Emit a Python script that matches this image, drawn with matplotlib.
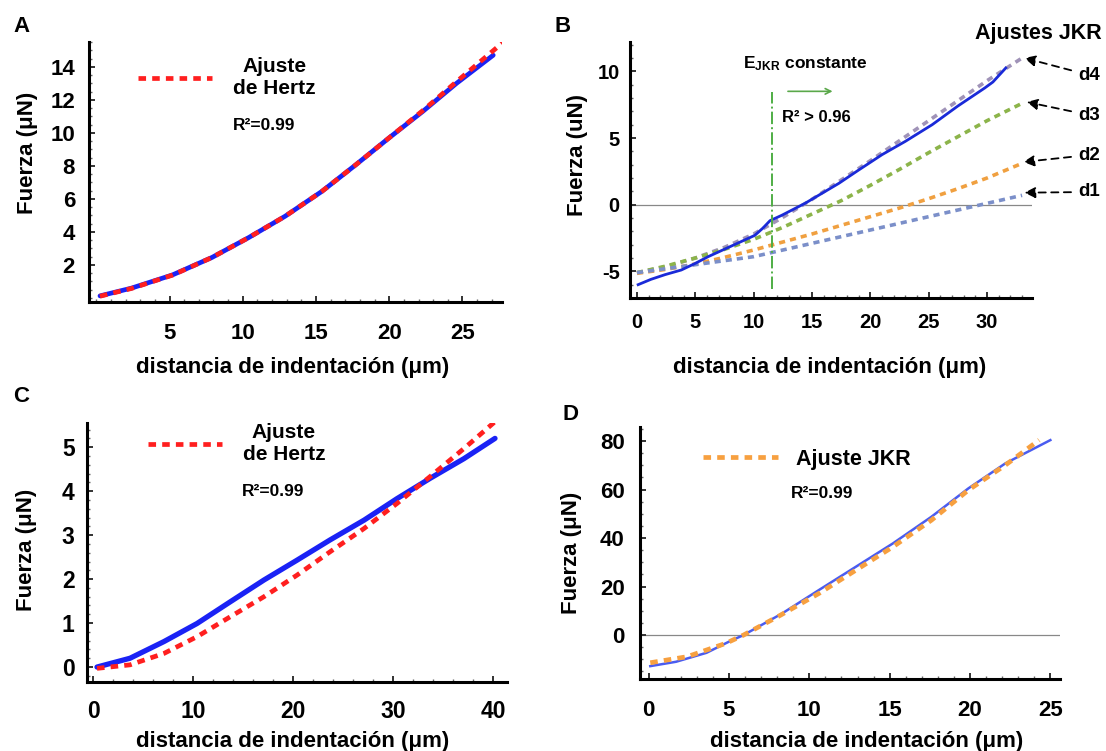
import matplotlib
matplotlib.use('Agg')
import matplotlib.pyplot as plt
from matplotlib.ticker import MultipleLocator

plt.rcParams['font.family'] = ['Liberation Sans', 'DejaVu Sans']
plt.rcParams['font.weight'] = 'bold'
plt.rcParams['axes.unicode_minus'] = False
plt.rcParams['mathtext.fontset'] = 'custom'
plt.rcParams['mathtext.rm'] = 'Liberation Sans:bold'
plt.rcParams['mathtext.it'] = 'Liberation Sans:bold'
plt.rcParams['mathtext.bf'] = 'Liberation Sans:bold'

# ---- data ----
# A: Hertz fit
a_dist = [0.25, 2.4, 5.2, 7.9, 10.4, 12.9, 15.4, 17.7, 20.0, 22.3, 24.6, 27.1]
a_force = [0.12, 0.59, 1.39, 2.45, 3.65, 4.95, 6.45, 8.05, 9.7, 11.3, 13.0, 14.7]
a_fit_dist = [0.25, 2.4, 5.2, 7.9, 10.4, 12.9, 15.4, 17.7, 20.0, 22.3, 24.6, 27.8]
a_fit = [0.1, 0.57, 1.38, 2.45, 3.65, 4.95, 6.45, 8.05, 9.7, 11.35, 13.1, 15.5]

# B: JKR fits d1..d4
b_dist = [0.1, 1.2, 2.4, 3.8, 5.0, 6.1, 8.1, 10.1, 10.8, 11.4, 12.4, 14.4,
          17.3, 19.0, 21.0, 23.0, 25.3, 27.5, 29.8, 30.5, 31.6]
b_force = [-6.0, -5.6, -5.25, -4.9, -4.4, -3.9, -3.1, -2.3, -1.75, -1.2,
           -0.8, 0.1, 1.6, 2.6, 3.75, 4.75, 6.0, 7.4, 8.75, 9.2, 10.25]
b_fit_dist = [0, 2.5, 5, 7.5, 10, 12.5, 15, 17.5, 20, 22.5, 25, 27.5, 30, 33]
b_d4 = [-5.1, -4.65, -4.0, -3.2, -2.2, -0.95, 0.4, 1.85, 3.3, 4.8, 6.3, 7.8, 9.3, 11.0]
b_d3 = [-5.1, -4.6, -4.0, -3.35, -2.6, -1.7, -0.7, 0.3, 1.45, 2.65, 3.9, 5.1, 6.3, 7.6]
b_d2 = [-5.15, -4.85, -4.45, -3.95, -3.4, -2.8, -2.2, -1.55, -0.9, -0.25, 0.45, 1.2, 2.0, 3.1]
b_d1 = [-5.1, -4.8, -4.5, -4.2, -3.9, -3.4, -2.9, -2.4, -1.9, -1.4, -0.9, -0.4, 0.1, 0.7]
b_fit_names = ['d4', 'd3', 'd2', 'd1']
b_e_const = 11.6           # start of constant E_JKR region
b_arrow_tips = [(33.2, 11.0), (33.4, 7.7), (33.1, 3.2), (33.2, 0.9)]

# C: Hertz fit
c_dist = [0.4, 3.7, 7.1, 10.4, 13.7, 17.1, 20.4, 23.7, 27.1, 30.4, 33.7, 37.1, 40.2]
c_force = [0.0, 0.2, 0.58, 0.99, 1.48, 1.98, 2.43, 2.89, 3.34, 3.83, 4.29, 4.74, 5.2]
c_fit_dist = [0.4, 3.7, 7.1, 10.4, 13.7, 17.1, 20.4, 23.7, 27.1, 30.4, 33.7, 37.1, 40.2]
c_fit = [-0.03, 0.05, 0.31, 0.69, 1.14, 1.6, 2.09, 2.62, 3.15, 3.72, 4.33, 4.97, 5.58]

# D: JKR fit
d_dist = [0.1, 1.7, 3.6, 5.0, 5.9, 8.3, 10.6, 12.9, 15.2, 17.6, 19.9, 22.2, 25.0]
d_force = [-12.8, -11, -7.3, -2.7, 0, 8.9, 18.6, 28.2, 37.8, 48.8, 60.5, 70.8, 80.4]
d_fit_dist = [0.1, 2.4, 4.8, 5.9, 8.2, 10.6, 12.9, 15.2, 17.6, 19.9, 22.2, 24.3]
d_fit = [-11.4, -8.9, -3.4, 0, 8.2, 17.2, 26.8, 36.4, 47.4, 59.8, 70.1, 80.4]

W, H = 1106, 751


def fpos(x, y):
    # figure pixel (from top-left) -> figure fraction
    return x / W, 1 - y / H


def box(left, top, right, bottom):
    return [left / W, 1 - bottom / H, (right - left) / W, (bottom - top) / H]


def style(ax, xlim, ylim, xticks, yticks, xminor, yminor, size, xpad, ypad):
    ax.set_xlim(*xlim)
    ax.set_ylim(*ylim)
    ax.set_xticks(xticks)
    ax.set_yticks(yticks)
    ax.xaxis.set_minor_locator(MultipleLocator(xminor))
    ax.yaxis.set_minor_locator(MultipleLocator(yminor))
    for s in ['top', 'right']:
        ax.spines[s].set_visible(False)
    for s in ['left', 'bottom']:
        ax.spines[s].set_linewidth(2.2)
    ax.tick_params(which='major', direction='in', length=4, width=1.4,
                   color='#333333', labelsize=size)
    ax.tick_params(which='minor', direction='in', length=2, width=1,
                   color='#666666')
    ax.tick_params(axis='x', which='major', pad=xpad)
    ax.tick_params(axis='y', which='major', pad=ypad)


def labels(ax, ylabel, ypos, xpos, size=16):
    ax.set_ylabel(ylabel, fontsize=size, fontweight='bold')
    ax.yaxis.set_label_coords(*ypos)
    ax.yaxis.label.set_va('center')
    ax.set_xlabel('distancia de indentación (μm)', fontsize=size, fontweight='bold')
    ax.xaxis.set_label_coords(*xpos)
    ax.xaxis.label.set_va('center')


fig = plt.figure(figsize=(W / 100, H / 100), dpi=100)

blue = '#1a22f5'
red = '#ff1f1f'
fit_ls = (0, (1.6, 1.3))

# ---- A ----
ax = fig.add_axes(box(89, 42, 502, 302))
ax.plot(a_dist, a_force, color=blue, lw=3.4, solid_capstyle='round')
ax.plot(a_fit_dist, a_fit, color=red, lw=3.4, ls=fit_ls, label='Ajuste\nde Hertz')
style(ax, (-0.5, 27.7), (-0.25, 15.5), [5, 10, 15, 20, 25], range(2, 15, 2),
      1, 0.5, 16, 15, 10)
labels(ax, 'Fuerza (μN)', (-0.150, 0.573), (0.494, -0.25))
leg = ax.legend(loc='center left', bbox_to_anchor=(0.119, 0.862), frameon=False,
                fontsize=15, handlelength=3.55, handletextpad=1.0,
                borderpad=0, borderaxespad=0)
for t in leg.get_texts():
    t.set_multialignment('center')
ax.text(0.349, 0.677, 'R²=0.99', transform=ax.transAxes, fontsize=12.5,
        fontweight='bold', va='center', ha='left')

# ---- B ----
ax = fig.add_axes(box(629.5, 42, 1032, 298))
fit_colors = ['#a093b8', '#8cb44a', '#f0a040', '#7b8fc9']
for vals, col in zip([b_d4, b_d3, b_d2, b_d1], fit_colors):
    ax.plot(b_fit_dist, vals, color=col, lw=2.6, ls=(0, (1.7, 1.4)))
ax.plot(b_dist, b_force, color='#1a2ad8', lw=2.0)
ax.axhline(0, color='#888888', lw=0.9, zorder=0)
ax.vlines(b_e_const, -6.3, 8.45, color='#4fae45', lw=1.4, ls='-.')
ax.annotate('', xy=(17.0, 8.5), xytext=(12.7, 8.5),
            arrowprops=dict(arrowstyle='->', color='#5aa84a', lw=1.2))
style(ax, (-0.64, 33.85), (-7, 12.2), range(0, 31, 5), [-5, 0, 5, 10],
      1, 1, 14.5, 11, 7)
labels(ax, 'Fuerza (uN)', (-0.128, 0.559), (0.498, -0.27))
fig.text(*fpos(743, 64), r'E$_{\rm JKR}$ constante', fontsize=12.5,
         fontweight='bold', ha='left', va='center')
fig.text(*fpos(782, 117), 'R² > 0.96', fontsize=12, fontweight='bold',
         ha='left', va='center')
fig.text(*fpos(1038, 33), 'Ajustes JKR', fontsize=15.5, fontweight='bold',
         ha='center', va='center')
label_rows = [75, 115, 155, 192]
for name, tip, row in zip(b_fit_names, b_arrow_tips, label_rows):
    ax.annotate(name, xy=tip, xycoords='data', xytext=fpos(1078, row),
                textcoords='figure fraction', fontsize=13.5, fontweight='bold',
                ha='left', va='center', annotation_clip=False,
                arrowprops=dict(arrowstyle='-|>', color='black', lw=1.3,
                                linestyle=(0, (4, 3)), mutation_scale=16,
                                shrinkA=3, shrinkB=0))

# ---- C ----
ax = fig.add_axes(box(87, 423, 507, 682))
ax.plot(c_dist, c_force, color=blue, lw=3.8, solid_capstyle='round')
ax.plot(c_fit_dist, c_fit, color=red, lw=3.4, ls=fit_ls, label='Ajuste\nde Hertz')
style(ax, (-0.6, 41.4), (-0.34, 5.55), [0, 10, 20, 30, 40], range(0, 6),
      2, 0.2, 16.5, 13, 9)
labels(ax, 'Fuerza (μN)', (-0.143, 0.51), (0.49, -0.23))
leg = ax.legend(loc='center left', bbox_to_anchor=(0.145, 0.919), frameon=False,
                fontsize=15, handlelength=3.55, handletextpad=1.0,
                borderpad=0, borderaxespad=0)
for t in leg.get_texts():
    t.set_multialignment('center')
ax.text(0.369, 0.734, 'R²=0.99', transform=ax.transAxes, fontsize=12.5,
        fontweight='bold', va='center', ha='left')

# ---- D ----
ax = fig.add_axes(box(640, 427, 1060, 679))
ax.plot(d_dist, d_force, color='#4a5cf0', lw=1.8)
ax.plot(d_fit_dist, d_fit, color='#f7a040', lw=3.4, ls=fit_ls, label='Ajuste JKR')
ax.axhline(0, color='#888888', lw=0.9, zorder=0)
style(ax, (-0.54, 25.6), (-18.1, 85.8), range(0, 26, 5), range(0, 81, 20),
      1, 5, 16, 15, 11)
labels(ax, 'Fuerza (μN)', (-0.162, 0.5), (0.54, -0.25))
ax.legend(loc='center left', bbox_to_anchor=(0.15, 0.873), frameon=False,
          fontsize=15.5, handlelength=3.5, handletextpad=0.8,
          borderpad=0, borderaxespad=0)
ax.text(0.36, 0.738, 'R²=0.99', transform=ax.transAxes, fontsize=12.5,
        fontweight='bold', va='center', ha='left')

# panel letters
for letter, (px, py) in zip('ABCD', [(22, 27), (563, 27), (21, 397), (570, 415)]):
    fig.text(*fpos(px, py), letter, fontsize=16, fontweight='bold',
             ha='center', va='center')

fig.savefig('out.png', dpi=100)
